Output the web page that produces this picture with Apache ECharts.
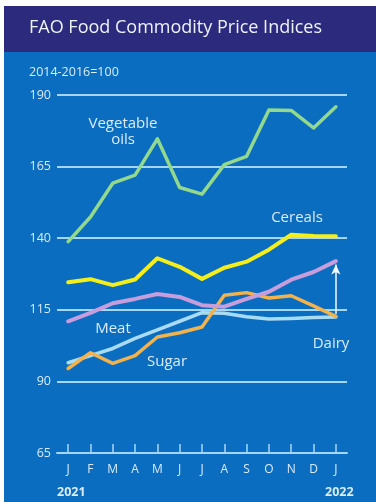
<!DOCTYPE html>
<html><head><meta charset="utf-8">
<script src="https://cdn.jsdelivr.net/npm/echarts@6/dist/echarts.min.js"></script>
<style>html,body{margin:0;padding:0;background:#fff}#c{width:376px;height:502px}</style>
</head><body><div id="c"></div>
<script>
var months = ['J','F','M','A','M','J','J','A','S','O','N','D','J'];
var vegOils = [138.8,147.4,159.2,162.0,174.7,157.7,155.4,165.7,168.6,184.8,184.6,178.5,185.9];
var cereals = [124.6,125.7,123.6,125.6,133.0,130.0,125.8,129.7,131.8,136.0,141.2,140.8,140.7];
var dairy = [111.0,113.9,117.3,118.8,120.5,119.5,116.6,116.1,118.8,121.3,125.5,128.2,132.0];
var meat = [96.5,99.0,101.5,105.0,108.0,111.0,114.0,113.8,112.6,111.8,112.0,112.3,112.5];
var sugar = [94.5,100.0,96.3,99.0,105.5,107.0,109.0,120.1,121.0,119.1,119.9,116.4,112.7];
var yTicks = {min:65, max:190, step:25};
var years = ['2021','2022'];

var chart = echarts.init(document.getElementById('c'), null, {renderer:'canvas'});
var fontF = '"Open Sans","Noto Sans",sans-serif';
var txtCol = '#d9ecf8';
function mkLine(name, data, color, w, z){
  return {name:name, type:'line', data:data, symbol:'none', z:z,
    lineStyle:{color:color, width:w, join:'round', cap:'round'}};
}
function lbl(text, x, y, size, extra){
  var s = {text:text, fill:txtCol, font:size+'px '+fontF, textAlign:'center', textVerticalAlign:'middle'};
  if (extra) for (var k in extra) s[k]=extra[k];
  return {type:'text', x:x, y:y, style:s};
}
var dairySeries = mkLine('Dairy', dairy, '#c79ddc', 4, 3);
dairySeries.markLine = {silent:true, symbol:['none','arrow'], symbolSize:[7,10],
  label:{show:false},
  lineStyle:{color:'#f2f8fc', width:1.5, type:'solid'},
  data:[[{coord:[12,113.5]},{coord:[12,130.8]}]]};
chart.setOption({
  backgroundColor:'#ffffff',
  animation:false,
  graphic:[
    {type:'rect', z:-10, shape:{x:4,y:52,width:372,height:450}, style:{fill:'#0b6dbf'}},
    {type:'rect', z:-10, shape:{x:4,y:6,width:372,height:46}, style:{fill:'#2b2a7c'}},
    {type:'text', x:29, y:28, style:{text:'FAO Food Commodity Price Indices', fill:'#eef3fb', font:'18px '+fontF, textVerticalAlign:'middle'}},
    {type:'text', x:29, y:72, style:{text:'2014-2016=100', fill:txtCol, font:'12.5px '+fontF, textVerticalAlign:'middle'}},
    lbl('Vegetable', 123, 124, 15),
    lbl('oils', 123, 140, 15),
    lbl('Cereals', 297, 218, 15),
    lbl('Meat', 113, 329, 15),
    lbl('Sugar', 167, 362, 15),
    lbl('Dairy', 331, 344, 15),
    {type:'text', x:57, y:492, style:{text:years[0], fill:txtCol, font:'bold 12.5px '+fontF, textVerticalAlign:'middle'}},
    {type:'text', x:325, y:492, style:{text:years[1], fill:txtCol, font:'bold 12.5px '+fontF, textVerticalAlign:'middle'}}
  ],
  grid:{left:57, right:29, top:95, bottom:49, containLabel:false},
  xAxis:{type:'category', data:months, boundaryGap:true,
    axisLine:{show:true, lineStyle:{color:'#a6d6f4', width:2}},
    axisTick:{show:true, inside:true, alignWithLabel:true, length:9, lineStyle:{color:'#a6d6f4', width:1.5}},
    axisLabel:{color:txtCol, fontSize:12, fontFamily:fontF, margin:11, interval:0},
    splitLine:{show:false}},
  yAxis:{type:'value', min:yTicks.min, max:yTicks.max, interval:yTicks.step,
    axisLine:{show:false}, axisTick:{show:false},
    axisLabel:{color:txtCol, fontSize:12.5, fontFamily:fontF, margin:6},
    splitLine:{show:true, lineStyle:{color:'#a6d6f4', width:2}}},
  series:[
    mkLine('Meat', meat, '#a9dbf5', 3.5, 2),
    mkLine('Sugar', sugar, '#f2b24c', 3.5, 3),
    dairySeries,
    mkLine('Cereals', cereals, '#f3ee1c', 4, 4),
    mkLine('Vegetable oils', vegOils, '#92d98e', 3.5, 4)
  ]
});
</script></body></html>
